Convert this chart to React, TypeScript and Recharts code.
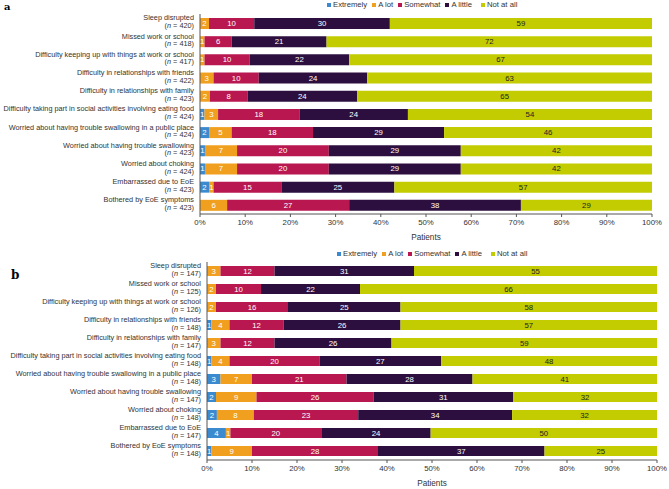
import React from "react";
import { BarChart, Bar, XAxis, YAxis, Legend, LabelList } from "recharts";

const categories = [
  "Sleep disrupted",
  "Missed work or school",
  "Difficulty keeping up with things at work or school",
  "Difficulty in relationships with friends",
  "Difficulty in relationships with family",
  "Difficulty taking part in social activities involving eating food",
  "Worried about having trouble swallowing in a public place",
  "Worried about having trouble swallowing",
  "Worried about choking",
  "Embarrassed due to EoE",
  "Bothered by EoE symptoms",
];

// panel a (percent of patients; a few rows read to one decimal from segment widths
// where the rounded labels do not add up to 100)
const nA = [420, 418, 417, 422, 423, 424, 424, 423, 424, 423, 423];
const extremelyA = [0, 0, 0, 0, 0, 1, 2, 1.1, 1.1, 2, 0];
const aLotA = [2, 1, 1, 3, 2.2, 3, 5, 7.1, 7.1, 1, 6];
const somewhatA = [10, 6, 10, 10, 8.3, 18, 18, 20.3, 20.3, 15, 27];
const aLittleA = [30, 21, 22, 24, 24.3, 24, 29, 29.2, 29.2, 25, 38];
const notAtAllA = [59, 72, 67, 63, 65.2, 54, 46, 42.3, 42.3, 57, 29];

// panel b
const nB = [147, 125, 126, 148, 147, 148, 148, 147, 148, 147, 148];
const extremelyB = [0, 0, 0, 1, 0, 1, 3, 2, 2.2, 4.2, 1];
const aLotB = [3, 2, 2, 4, 3, 4, 7, 9, 8.2, 1, 9];
const somewhatB = [12, 10, 16, 12, 12, 20, 21, 26, 23.2, 20.2, 28];
const aLittleB = [31, 22, 25, 26, 26, 27, 28, 31, 34.2, 24.3, 37];
const notAtAllB = [55, 66, 58, 57, 59, 48, 41, 32, 32.2, 50.3, 25];

const xTicks = [0, 10, 20, 30, 40, 50, 60, 70, 80, 90, 100];

const series = [
  { key: "extremely", name: "Extremely", color: "#3b8ad0", text: "#fff" },
  { key: "aLot", name: "A lot", color: "#f0a01e", text: "#fff" },
  { key: "somewhat", name: "Somewhat", color: "#b8174f", text: "#fff" },
  { key: "aLittle", name: "A little", color: "#2c0f3e", text: "#fff" },
  { key: "notAtAll", name: "Not at all", color: "#c2cc00", text: "#222" },
];

const buildRows = (
  n: number[],
  e: number[],
  l: number[],
  s: number[],
  li: number[],
  no: number[]
) =>
  categories.map((cat, i) => ({
    cat,
    n: n[i],
    extremely: e[i],
    aLot: l[i],
    somewhat: s[i],
    aLittle: li[i],
    notAtAll: no[i],
  }));

const rowsA = buildRows(nA, extremelyA, aLotA, somewhatA, aLittleA, notAtAllA);
const rowsB = buildRows(nB, extremelyB, aLotB, somewhatB, aLittleB, notAtAllB);

const FONT = "Arial, 'Liberation Sans', sans-serif";

const LegendContent = () => (
  <div style={{ display: "flex", fontFamily: FONT, fontSize: 7.7, color: "#333", whiteSpace: "nowrap" }}>
    {series.map((s, i) => (
      <span
        key={s.key}
        style={{ display: "flex", alignItems: "center", marginLeft: i === 0 ? 0 : i === 4 ? 9 : 5 }}
      >
        <span style={{ width: 4, height: 4, background: s.color, marginRight: 2, display: "inline-block" }} />
        {s.name}
      </span>
    ))}
  </div>
);

const makeTick = (rows: typeof rowsA) => (props: any) => {
  const { x, y, payload } = props;
  const row = rows.find((r) => r.cat === payload.value);
  return (
    <g>
      <text x={x} y={y - 2.6} textAnchor="end" fontSize={7.3} fill="#333" fontFamily={FONT}>
        {payload.value}
      </text>
      <text x={x} y={y + 5} textAnchor="end" fontSize={7.3} fill="#333" fontFamily={FONT}>
        (<tspan fontStyle="italic">n</tspan> = {row ? row.n : ""})
      </text>
    </g>
  );
};

const makeLabel = (color: string) => (props: any) => {
  const { x, y, width, height, value } = props;
  if (!value) return null;
  return (
    <text
      x={x + width / 2}
      y={y + height / 2}
      textAnchor="middle"
      dominantBaseline="central"
      fontSize={7.8}
      fill={color}
      fontFamily={FONT}
    >
      {Math.round(value)}
    </text>
  );
};

interface PanelProps {
  rows: typeof rowsA;
  margin: { top: number; right: number; bottom: number; left: number };
  yWidth: number;
  height: number;
  barSize: number;
  legendLeft: number;
  legendTop: number;
}

const Panel = ({ rows, margin, yWidth, height, barSize, legendLeft, legendTop }: PanelProps) => (
  <BarChart width={669} height={height} data={rows} layout="vertical" margin={margin} barCategoryGap={0}>
    <XAxis
      type="number"
      domain={[0, 100]}
      ticks={xTicks}
      allowDataOverflow
      tickFormatter={(v) => `${v}%`}
      tick={{ fontSize: 7.8, fill: "#333", fontFamily: FONT }}
      stroke="#555"
      tickSize={3}
      tickMargin={2}
      height={26}
      interval={0}
      label={{ value: "Patients", position: "insideBottom", offset: 0, fontSize: 8.2, fill: "#333", fontFamily: FONT }}
    />
    <YAxis
      type="category"
      dataKey="cat"
      width={yWidth}
      tickLine={false}
      tickSize={4}
      tickMargin={2}
      stroke="#555"
      interval={0}
      tick={makeTick(rows)}
    />
    <Legend
      verticalAlign="middle"
      align="center"
      content={<LegendContent />}
      wrapperStyle={{ left: legendLeft, top: legendTop, width: 240, height: 10 }}
    />
    {series.map((s) => (
      <Bar
        key={s.key}
        dataKey={s.key}
        name={s.name}
        stackId="a"
        fill={s.color}
        barSize={barSize}
        isAnimationActive={false}
      >
        <LabelList dataKey={s.key} content={makeLabel(s.text)} />
      </Bar>
    ))}
  </BarChart>
);

export default function App() {
  return (
    <div style={{ position: "absolute", left: 0, top: 0, width: 669, height: 489, background: "#fff" }}>
      <div
        style={{
          position: "absolute",
          left: 4,
          top: 1,
          lineHeight: "11px",
          fontFamily: "'DejaVu Serif', serif",
          fontWeight: "bold",
          fontSize: 10,
        }}
      >
        a
      </div>
      <div
        style={{
          position: "absolute",
          left: 11,
          top: 268,
          fontFamily: "'DejaVu Serif', serif",
          fontWeight: "bold",
          fontSize: 12,
        }}
      >
        b
      </div>
      <div style={{ position: "absolute", left: 0, top: 0 }}>
        <Panel
          rows={rowsA}
          height={245}
          margin={{ top: 14, right: 17, bottom: 5, left: 0 }}
          yWidth={200}
          barSize={11}
          legendLeft={327}
          legendTop={0}
        />
      </div>
      <div style={{ position: "absolute", left: 0, top: 245 }}>
        <Panel
          rows={rowsB}
          height={244}
          margin={{ top: 17, right: 12, bottom: 3, left: 0 }}
          yWidth={207}
          barSize={10}
          legendLeft={337}
          legendTop={4}
        />
      </div>
    </div>
  );
}
